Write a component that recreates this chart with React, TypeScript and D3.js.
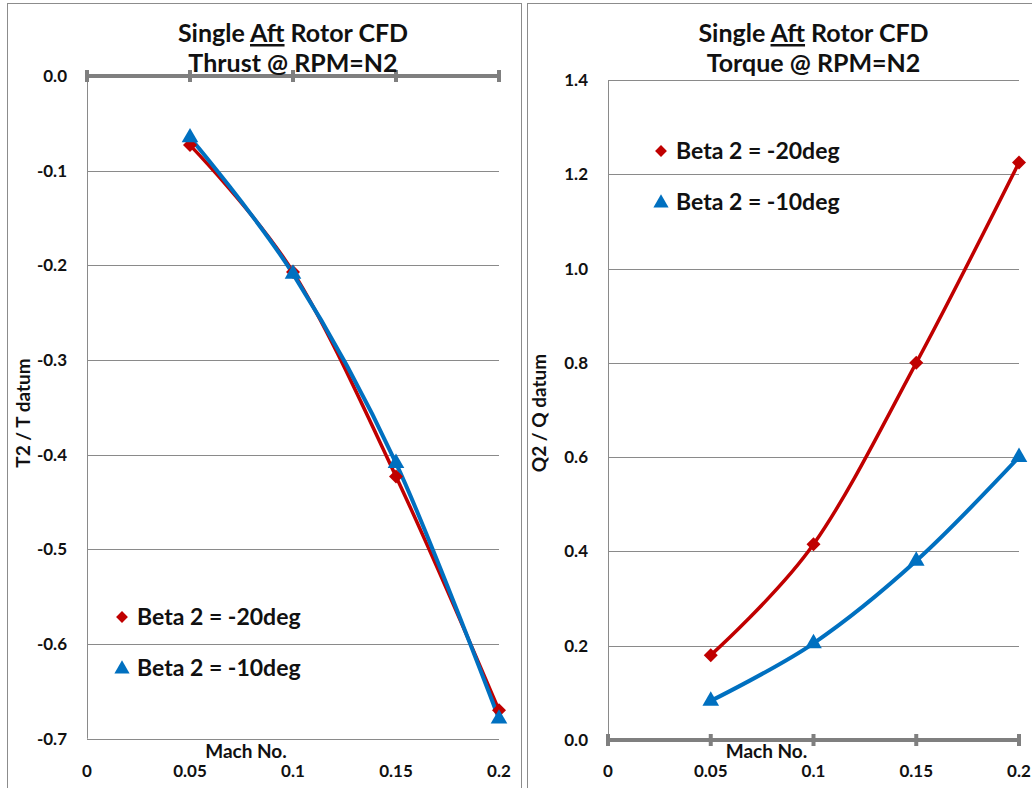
import React from "react";
import * as d3 from "d3";

const machValues = [0.05, 0.1, 0.15, 0.2];
const xTicks = [0, 0.05, 0.1, 0.15, 0.2];
const xTickLabels = ["0", "0.05", "0.1", "0.15", "0.2"];

const thrustBeta20 = [-0.073, -0.207, -0.423, -0.67];
const thrustBeta10 = [-0.065, -0.209, -0.409, -0.679];
const thrustTicks = [0, -0.1, -0.2, -0.3, -0.4, -0.5, -0.6, -0.7];

const torqueBeta20 = [0.18, 0.415, 0.8, 1.225];
const torqueBeta10 = [0.083, 0.205, 0.38, 0.6];
const torqueTicks = [0, 0.2, 0.4, 0.6, 0.8, 1.0, 1.2, 1.4];

const seriesNames = ["Beta 2 = -20deg", "Beta 2 = -10deg"];
const RED = "#C00000";
const BLUE = "#0070C0";
const GRID = "#8a8a8a";
const AXIS = "#7f7f7f";
const FONT = "Lato, 'Open Sans', sans-serif";

const fmt = (v: number) => d3.format(".1f")(v).replace("\u2212", "-");

type PanelProps = {
  x0: number; x1: number; yTop: number; yBot: number;
  domain: [number, number];
  ticks: number[];
  axisAt: number;
  s20: number[]; s10: number[];
  title2: string; yLabel: string; yLabelX: number;
  legendX: number; legendY: number;
  border: [number, number];
};

function Panel(p: PanelProps) {
  const x = d3.scaleLinear().domain([0, 0.2]).range([p.x0, p.x1]);
  const y = d3.scaleLinear().domain(p.domain).range([p.yTop, p.yBot]);
  const line = d3.line<[number, number]>()
    .x(d => x(d[0])).y(d => y(d[1]))
    .curve(d3.curveCardinal.tension(0));
  const d20 = machValues.map((m, i) => [m, p.s20[i]] as [number, number]);
  const d10 = machValues.map((m, i) => [m, p.s10[i]] as [number, number]);
  const tri = d3.symbol(d3.symbolTriangle, 120)() as string;
  const sq = d3.symbol(d3.symbolSquare, 98)() as string;
  const cx = (p.x0 + p.x1) / 2;
  const yAxisPos = y(p.axisAt);
  return (
    <g>
      <rect x={p.border[0]} y={3.5} width={p.border[1] - p.border[0]} height={800} fill="#fff" stroke="#8c8c8c" strokeWidth={1} />
      {p.ticks.filter(t => t !== p.axisAt).map(t => (
        <line key={t} x1={p.x0} x2={p.x1} y1={Math.round(y(t)) + 0.5} y2={Math.round(y(t)) + 0.5} stroke={GRID} strokeWidth={1} />
      ))}
      <line x1={p.x0 + 0.5} x2={p.x0 + 0.5} y1={y(p.domain[0])} y2={y(p.domain[1])} stroke={GRID} strokeWidth={1} />
      {p.ticks.map(t => (
        <text key={t} x={p.x0 - 20} y={y(t) + 6} textAnchor="end" fontFamily={FONT} fontWeight="bold" fontSize={17} fill="#111">{fmt(t)}</text>
      ))}
      <line x1={p.x0} x2={p.x1} y1={yAxisPos} y2={yAxisPos} stroke={AXIS} strokeWidth={4} />
      {xTicks.map(t => (
        <line key={t} x1={x(t)} x2={x(t)} y1={yAxisPos - 6} y2={yAxisPos + 6} stroke={AXIS} strokeWidth={4} />
      ))}
      {xTicks.map((t, i) => (
        <text key={t} x={x(t)} y={777} textAnchor="middle" fontFamily={FONT} fontWeight="bold" fontSize={17} fill="#111">{xTickLabels[i]}</text>
      ))}
      <text x={cx - 47} y={758} textAnchor="middle" fontFamily={FONT} fontWeight="bold" fontSize={19} fill="#111">Mach No.</text>
      <text transform={`translate(${p.yLabelX},413) rotate(-90)`} textAnchor="middle" fontFamily={FONT} fontWeight="bold" fontSize={19} fill="#111">{p.yLabel}</text>
      <text x={cx} y={42} textAnchor="middle" fontFamily={FONT} fontWeight="bold" fontSize={25} fill="#111">
        Single <tspan style={{ textDecoration: "underline" }}>Aft</tspan> Rotor CFD
      </text>
      <text x={cx} y={72} textAnchor="middle" fontFamily={FONT} fontWeight="bold" fontSize={25} fill="#111">{p.title2}</text>
      <path d={line(d20) as string} fill="none" stroke={RED} strokeWidth={3.5} />
      <path d={line(d10) as string} fill="none" stroke={BLUE} strokeWidth={4} />
      {d20.map((d, i) => (
        <path key={i} d={sq} transform={`translate(${x(d[0])},${y(d[1])}) rotate(45)`} fill={RED} />
      ))}
      {d10.map((d, i) => (
        <path key={i} d={tri} transform={`translate(${x(d[0])},${y(d[1])})`} fill={BLUE} />
      ))}
      <path d={d3.symbol(d3.symbolSquare, 70)() as string} transform={`translate(${p.legendX},${p.legendY}) rotate(45)`} fill={RED} />
      <text x={p.legendX + 15} y={p.legendY + 8} fontFamily={FONT} fontWeight="bold" fontSize={23} fill="#111">{seriesNames[0]}</text>
      <path d={d3.symbol(d3.symbolTriangle, 100)() as string} transform={`translate(${p.legendX},${p.legendY + 52})`} fill={BLUE} />
      <text x={p.legendX + 15} y={p.legendY + 59} fontFamily={FONT} fontWeight="bold" fontSize={23} fill="#111">{seriesNames[1]}</text>
    </g>
  );
}

export default function App() {
  return (
    <div style={{ position: "absolute", left: 0, top: 0 }}>
      <svg width={1032} height={788} style={{ display: "block" }}>
        <rect width={1032} height={788} fill="#fff" />
        <Panel x0={87} x1={499} yTop={76} yBot={738.7} domain={[0, -0.7]} ticks={thrustTicks} axisAt={0}
          s20={thrustBeta20} s10={thrustBeta10} title2="Thrust @ RPM=N2" yLabel="T2 / T datum" yLabelX={30}
          legendX={122} legendY={617} border={[7.5, 521.5]} />
        <Panel x0={608} x1={1019} yTop={740} yBot={80} domain={[0, 1.4]} ticks={torqueTicks} axisAt={0}
          s20={torqueBeta20} s10={torqueBeta10} title2="Torque @ RPM=N2" yLabel="Q2 / Q datum" yLabelX={546}
          legendX={661} legendY={151} border={[527.5, 1040]} />
      </svg>
    </div>
  );
}
